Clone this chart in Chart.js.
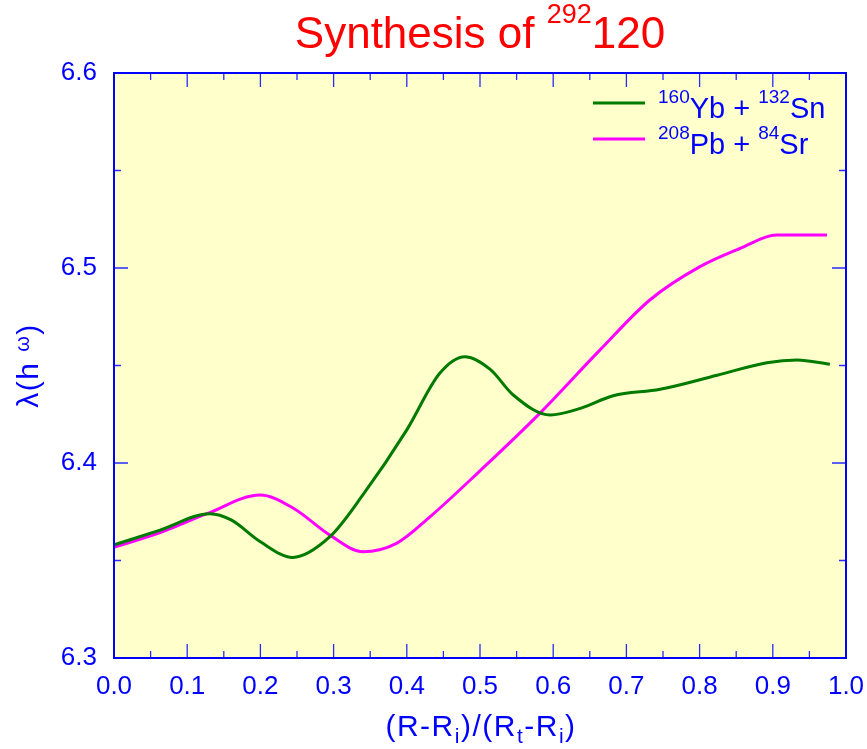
<!DOCTYPE html>
<html><head><meta charset="utf-8">
<script src="https://cdn.jsdelivr.net/npm/chart.js@4/dist/chart.umd.min.js"></script>
<style>html,body{margin:0;padding:0;background:#fff}</style>
</head><body>
<canvas id="c" width="867" height="749" style="display:block;width:867px;height:749px"></canvas>
<script>
// ---- data ----
const ybSnX = [0, 0.063, 0.131, 0.16, 0.2, 0.244, 0.295, 0.34, 0.40, 0.445, 0.4795, 0.514, 0.545, 0.596, 0.637, 0.682, 0.746, 0.824, 0.892, 0.933, 0.978];
const ybSnY = [6.358, 6.3656, 6.374, 6.3708, 6.3596, 6.3516, 6.3622, 6.3836, 6.417, 6.446, 6.4545, 6.448, 6.435, 6.4246, 6.428, 6.4345, 6.4378, 6.445, 6.4514, 6.4528, 6.4506];
const pbSrX = [0, 0.063, 0.127, 0.1995, 0.245, 0.295, 0.34, 0.386, 0.432, 0.5, 0.582, 0.664, 0.732, 0.8005, 0.855, 0.905, 0.974];
const pbSrY = [6.3568, 6.3643, 6.374, 6.3836, 6.3768, 6.363, 6.3545, 6.3588, 6.3725, 6.396, 6.4256, 6.458, 6.4836, 6.5007, 6.510, 6.5169, 6.5169];
const xTicks = [0.0, 0.1, 0.2, 0.3, 0.4, 0.5, 0.6, 0.7, 0.8, 0.9, 1.0];
const yTicks = [6.3, 6.4, 6.5, 6.6];
const seriesLabels = [
  [{t:'160', sup:true}, {t:'Yb + '}, {t:'132', sup:true}, {t:'Sn'}],
  [{t:'208', sup:true}, {t:'Pb + '}, {t:'84', sup:true}, {t:'Sr'}]
];
const seriesColors = ['#007a00', '#ff00ff'];
const titleParts = [{t:'Synthesis of '}, {t:'292', sup:true}, {t:'120'}];
const xTitleParts = [{t:'(R-R'}, {t:'i', sub:true}, {t:')/(R'}, {t:'t', sub:true}, {t:'-R'}, {t:'i', sub:true}, {t:')'}];
const yTitleParts = [{t:'\u03bb(h '}, {t:'\u03c9', sup:true}, {t:')'}];

const FONT = '"Liberation Sans", Arial, Helvetica, sans-serif';
const BLUE = '#0000ff';

function toPts(xs, ys){ return xs.map((x,i)=>({x:x, y:ys[i]})); }

function drawRich(ctx, parts, x, y, opt){
  const big = opt.size, small = opt.small, sp = opt.spacing || 0;
  ctx.save();
  try { ctx.letterSpacing = sp + 'px'; } catch(e){}
  let w = 0;
  const items = parts.map(p=>{
    const s = (p.sup||p.sub) ? small : big;
    ctx.font = s + 'px ' + FONT;
    const m = ctx.measureText(p.t).width;
    w += m;
    return {p, s, m};
  });
  let cx = opt.align === 'center' ? x - w/2 : x;
  ctx.fillStyle = opt.color;
  ctx.textBaseline = 'alphabetic';
  ctx.textAlign = 'left';
  for (const it of items){
    ctx.font = it.s + 'px ' + FONT;
    let dy = 0;
    if (it.p.sup) dy = opt.supDy;
    if (it.p.sub) dy = opt.subDy;
    ctx.fillText(it.p.t, cx, y + dy);
    cx += it.m;
  }
  ctx.restore();
}

const decor = {
  id: 'decor',
  beforeDraw(chart){
    const {ctx, chartArea:a} = chart;
    ctx.save();
    ctx.fillStyle = '#ffffcc';
    ctx.fillRect(a.left, a.top, a.right - a.left, a.bottom - a.top);
    ctx.restore();
  },
  afterDraw(chart){
    const {ctx, chartArea:a, scales} = chart;
    const xs = scales.x, ys = scales.y;
    ctx.save();
    ctx.strokeStyle = '#2a2aff';
    ctx.lineWidth = 1.3;
    const xMaj = xTicks, yMaj = yTicks;
    const xMin = xMaj.slice(0,-1).map((v,i)=>(v + xMaj[i+1])/2);
    const yMin = yMaj.slice(0,-1).map((v,i)=>(v + yMaj[i+1])/2);
    function xt(v, len){
      const p = xs.getPixelForValue(v);
      ctx.beginPath();
      ctx.moveTo(p, a.bottom); ctx.lineTo(p, a.bottom - len);
      ctx.moveTo(p, a.top); ctx.lineTo(p, a.top + len);
      ctx.stroke();
    }
    function yt(v, len){
      const p = ys.getPixelForValue(v);
      ctx.beginPath();
      ctx.moveTo(a.left, p); ctx.lineTo(a.left + len, p);
      ctx.moveTo(a.right, p); ctx.lineTo(a.right - len, p);
      ctx.stroke();
    }
    xMaj.forEach(v=>xt(v,14)); xMin.forEach(v=>xt(v,7));
    yMaj.forEach(v=>yt(v,14)); yMin.forEach(v=>yt(v,7));
    ctx.strokeStyle = BLUE;
    ctx.lineWidth = 2;
    ctx.strokeRect(a.left, a.top, a.right - a.left, a.bottom - a.top);
    ctx.restore();

    const cxA = (a.left + a.right)/2;
    drawRich(ctx, titleParts, cxA, 48, {size:44, small:27, supDy:-25, color:'#ff0000', align:'center'});
    drawRich(ctx, xTitleParts, cxA + 1, 736, {size:30, small:21, subDy:7, color:BLUE, align:'center', spacing:1.5});
    ctx.save();
    ctx.translate(38, (a.top + a.bottom)/2);
    ctx.rotate(-Math.PI/2);
    drawRich(ctx, yTitleParts, 0, 0, {size:30, small:20, supDy:-9, color:BLUE, align:'center', spacing:1.5});
    ctx.restore();
    const rows = [103, 139];
    seriesLabels.forEach((parts, i)=>{
      const y = rows[i];
      ctx.save();
      ctx.strokeStyle = seriesColors[i];
      ctx.lineWidth = 3;
      ctx.beginPath(); ctx.moveTo(593, y); ctx.lineTo(645, y); ctx.stroke();
      ctx.restore();
      drawRich(ctx, parts, 658, y + 15, {size:29, small:19, supDy:-15, color:BLUE, align:'left'});
    });
  }
};

new Chart(document.getElementById('c'), {
  type: 'scatter',
  data: {
    datasets: [
      {data: toPts(ybSnX, ybSnY), showLine:true, borderColor: seriesColors[0], borderWidth:3, pointRadius:0, cubicInterpolationMode:'monotone', fill:false},
      {data: toPts(pbSrX, pbSrY), showLine:true, borderColor: seriesColors[1], borderWidth:3, pointRadius:0, cubicInterpolationMode:'monotone', fill:false}
    ]
  },
  options: {
    responsive: false,
    animation: false,
    devicePixelRatio: 1,
    layout: {padding: {left:0, right:21, top:73, bottom:0}},
    plugins: {legend:{display:false}, title:{display:false}, tooltip:{enabled:false}},
    scales: {
      x: {
        type:'linear', min:0, max:1,
        afterBuildTicks(s){ s.ticks = xTicks.map(v=>({value:v})); },
        afterFit(s){ s.height = 91; s.paddingLeft = 0; s.paddingRight = 0; },
        grid:{display:false, drawTicks:false}, border:{display:false},
        ticks:{color:BLUE, padding:13, font:{family:FONT, size:26}, maxRotation:0, autoSkip:false, callback:(v)=>Number(v).toFixed(1)}
      },
      y: {
        type:'linear', min:6.3, max:6.6,
        afterBuildTicks(s){ s.ticks = yTicks.map(v=>({value:v})); },
        afterFit(s){ s.width = 114; s.paddingTop = 0; s.paddingBottom = 0; },
        grid:{display:false, drawTicks:false}, border:{display:false},
        ticks:{color:BLUE, padding:17, font:{family:FONT, size:26}, autoSkip:false, callback:(v)=>Number(v).toFixed(1)}
      }
    }
  },
  plugins: [decor]
});
</script>
</body></html>
